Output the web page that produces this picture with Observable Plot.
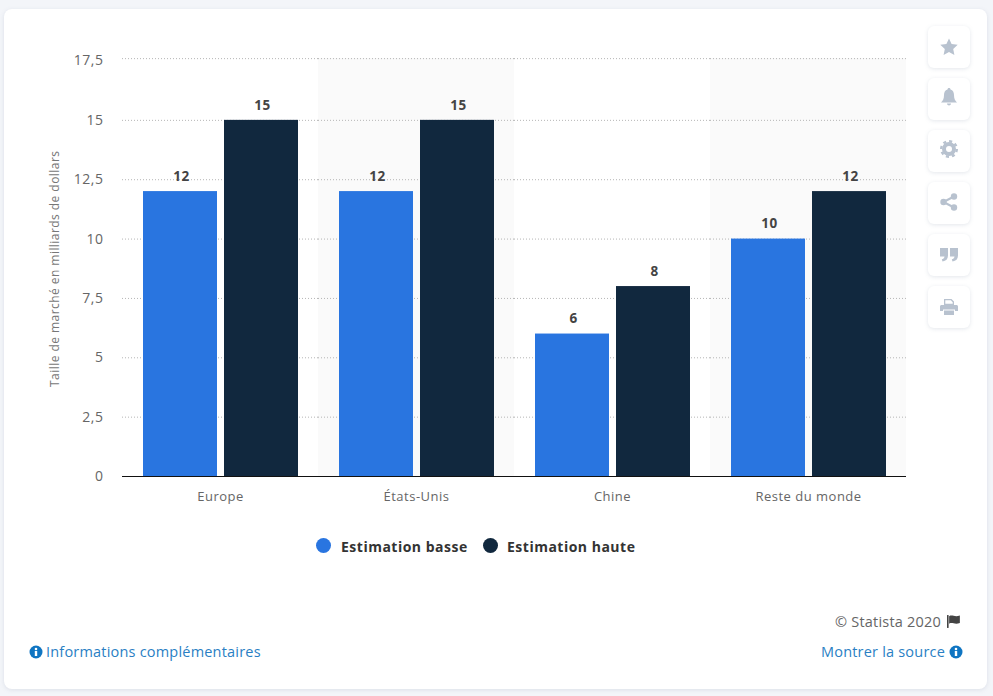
<!DOCTYPE html>
<html lang="fr">
<head>
<meta charset="utf-8">
<script src="https://cdn.jsdelivr.net/npm/d3@7"></script>
<script src="https://cdn.jsdelivr.net/npm/@observablehq/plot@0.6"></script>
<style>
  html, body { margin: 0; padding: 0; width: 993px; height: 696px; overflow: hidden; background: #f3f5f9; font-family: "Open Sans", sans-serif; }
  #card { position: absolute; left: 4px; top: 9px; width: 983px; height: 680px; background: #fff; border-radius: 8px; box-shadow: 0 1px 4px rgba(120,135,160,.18); }
  #chart_1 { position: absolute; left: 0; top: 0; }
  #chart_1 svg { display: block; background: transparent; }
  #legend { position: absolute; left: 0; top: 537px; font-size: 14px; font-weight: 700; letter-spacing: .5px; color: #333; }
  #legend div { position: absolute; top: 0; line-height: 20px; white-space: nowrap; }
  #legend i { position: absolute; width: 15px; height: 15px; border-radius: 50%; top: 1px; }
  .foot { position: absolute; font-size: 14.5px; letter-spacing: .2px; white-space: nowrap; line-height: 20px; }
  .link { color: #2a7fc4; }
  .btn { position: absolute; left: 928px; width: 42px; height: 42px; border-radius: 6px; background: #fff; box-shadow: 0 1px 4px rgba(120,135,160,.2); }
  .btn svg { position: absolute; left: 11px; top: 11px; width: 20px; height: 20px; fill: #b8c2cf; }
  .ic { position: absolute; width: 14px; height: 14px; }
</style>
</head>
<body>
<div id="card"></div>
<div id="chart_1"></div>
<div id="legend"></div>
<div class="foot" style="right:52px;top:612px;color:#666">© Statista 2020</div>
<svg class="ic" style="left:947px;top:614px;width:15px;height:15px" viewBox="0 0 14 14"><rect x="0" y="1" width="1.5" height="12" fill="#444"/><path d="M2 2c3-1.500 5 1 10-.5v7c-5 1.500-7-1-10 .5z" fill="#444"/></svg>
<svg class="ic" style="left:29px;top:645px" viewBox="0 0 14 14"><circle cx="7" cy="7" r="6.500" fill="#0f75c2"/><rect x="5.800" y="6" width="2.400" height="5" fill="#fff"/><circle cx="7" cy="4" r="1.300" fill="#fff"/></svg>
<div class="foot link" style="left:46px;top:642px">Informations complémentaires</div>
<div class="foot link" style="right:48px;top:642px">Montrer la source</div>
<svg class="ic" style="left:949px;top:645px" viewBox="0 0 14 14"><circle cx="7" cy="7" r="6.500" fill="#0f75c2"/><rect x="5.800" y="6" width="2.400" height="5" fill="#fff"/><circle cx="7" cy="4" r="1.300" fill="#fff"/></svg>

<div class="btn" style="top:26px"><svg viewBox="0 0 20 20"><path d="M10 1.500l2.600 5.600 6.100.7-4.500 4.200 1.200 6-5.400-3-5.400 3 1.200-6L1.300 7.800l6.100-.7z"/></svg></div>
<div class="btn" style="top:78px"><svg style="top:9px" viewBox="0 0 20 20"><path d="M10 1c1 0 1.500.7 1.500 1.500 2.500.7 3.500 3 3.500 5.500 0 4 1 5.500 3 7.500H2c2-2 3-3.500 3-7.500 0-2.500 1-4.800 3.500-5.500C8.500 1.700 9 1 10 1zM8 16.500h4c0 1.200-1 2-2 2s-2-.8-2-2z"/></svg></div>
<div class="btn" style="top:130px"><svg style="top:9px" viewBox="0 0 20 20"><circle cx="10" cy="10" r="5" fill="none" stroke="#b8c2cf" stroke-width="4"/><circle cx="10" cy="10" r="7.800" fill="none" stroke="#b8c2cf" stroke-width="2.400" stroke-dasharray="3.100 3"/></svg></div>
<div class="btn" style="top:182px"><svg style="top:10px" viewBox="0 0 20 20"><circle cx="15" cy="4.500" r="3.200"/><circle cx="15" cy="15.500" r="3.200"/><circle cx="4.500" cy="10" r="3.200"/><path d="M4.500 10L15 4.500M4.500 10L15 15.500" stroke="#b8c2cf" stroke-width="2"/></svg></div>
<div class="btn" style="top:234px"><svg viewBox="0 0 20 20"><path d="M1 3h8v7.500c0 3.500-2 5.500-5.500 6l-.7-2.200c1.700-.4 2.600-1.300 2.700-2.800H1zM11 3h8v7.500c0 3.500-2 5.500-5.500 6l-.7-2.200c1.700-.4 2.600-1.300 2.700-2.800H11z"/></svg></div>
<div class="btn" style="top:286px"><svg viewBox="0 0 20 20"><path d="M5 2h7.500L15 4.500V8H5zM6.300 3.300v3.500h7.400V5.200l-1.900-1.900zM2.500 8h15c.8 0 1.500.7 1.500 1.500V14h-3v-1.500H4V14H1V9.500C1 8.700 1.700 8 2.500 8zM5 13.500h10V18H5z"/></svg></div>

<script>
const regions = ["Europe", "États-Unis", "Chine", "Reste du monde"];
const shaded = ["États-Unis", "Reste du monde"];
const series = ["Estimation basse", "Estimation haute"];
const colors = ["#2975e0", "#11283e"];
const basse = [12, 12, 6, 10];
const haute = [15, 15, 8, 12];
const yTicks = [0, 2.5, 5, 7.5, 10, 12.5, 15, 17.5];
// dans l'original la ligne du haut est un peu au-dessus de 17,5
const gridLines = [2.5, 5, 7.5, 10, 12.5, 15, 17.6];

const data = regions.flatMap((r, i) => [
  {region: r, serie: series[0], value: basse[i]},
  {region: r, serie: series[1], value: haute[i]}
]);

const fr = d => String(d).replace(".", ",");

let chart = Plot.plot({
  width: 993,
  height: 520,
  marginLeft: 122,
  marginRight: 87,
  marginTop: 60.5,
  marginBottom: 44,
  style: {fontFamily: "'Open Sans', sans-serif", background: "transparent", overflow: "visible"},
  fx: {domain: regions, padding: 0, label: null},
  x: {domain: series, axis: null, paddingInner: 0.0864, paddingOuter: 0.253, align: 0.513},
  y: {domain: [0, 17.5], label: null},
  color: {domain: series, range: colors},
  marks: [
    Plot.rectY(shaded, {fx: d => d, y1: 0, y2: 17.6, fill: "#fafafa"}),
    Plot.ruleY(gridLines, {stroke: "#b5b5b5", strokeDasharray: "1,2", strokeWidth: 1}),
    Plot.barY(data, {fx: "region", x: "serie", y: "value", fill: "serie"}),
    Plot.text(data, {fx: "region", x: "serie", y: "value", text: "value", dy: -15, dx: 1, fontSize: 13.5, fontWeight: 700, fill: "#444"}),
    Plot.ruleY([0], {stroke: "#111", strokeWidth: 1.2}),
    Plot.axisY({
      ticks: yTicks, tickFormat: fr, tickSize: 0, tickPadding: 19, fontSize: 14, fill: "#666",
      label: "Taille de marché en milliards de dollars", labelAnchor: "center", labelArrow: "none", labelOffset: 72
    }),
    Plot.axisFx({anchor: "bottom", tickSize: 0, tickPadding: 15, fontSize: 13, fill: "#666", label: null})
  ]
});

d3.select("#chart_1").append(() => chart);
d3.select(chart).selectAll("text").style("letter-spacing", ".5px");
// le titre de l'axe y est plus petit que les graduations
d3.select(chart).selectAll("text")
  .filter(function() { return this.textContent.startsWith("Taille"); })
  .style("font-size", "12px").style("letter-spacing", ".45px").style("fill", "#777");

// legende hors du svg
const legendX = [[316, 341], [483, 507]];
series.forEach((s, i) => {
  const row = d3.select("#legend");
  row.append("i").style("left", legendX[i][0] + "px").style("background", colors[i]);
  row.append("div").style("left", legendX[i][1] + "px").text(s);
});
</script>
</body>
</html>
